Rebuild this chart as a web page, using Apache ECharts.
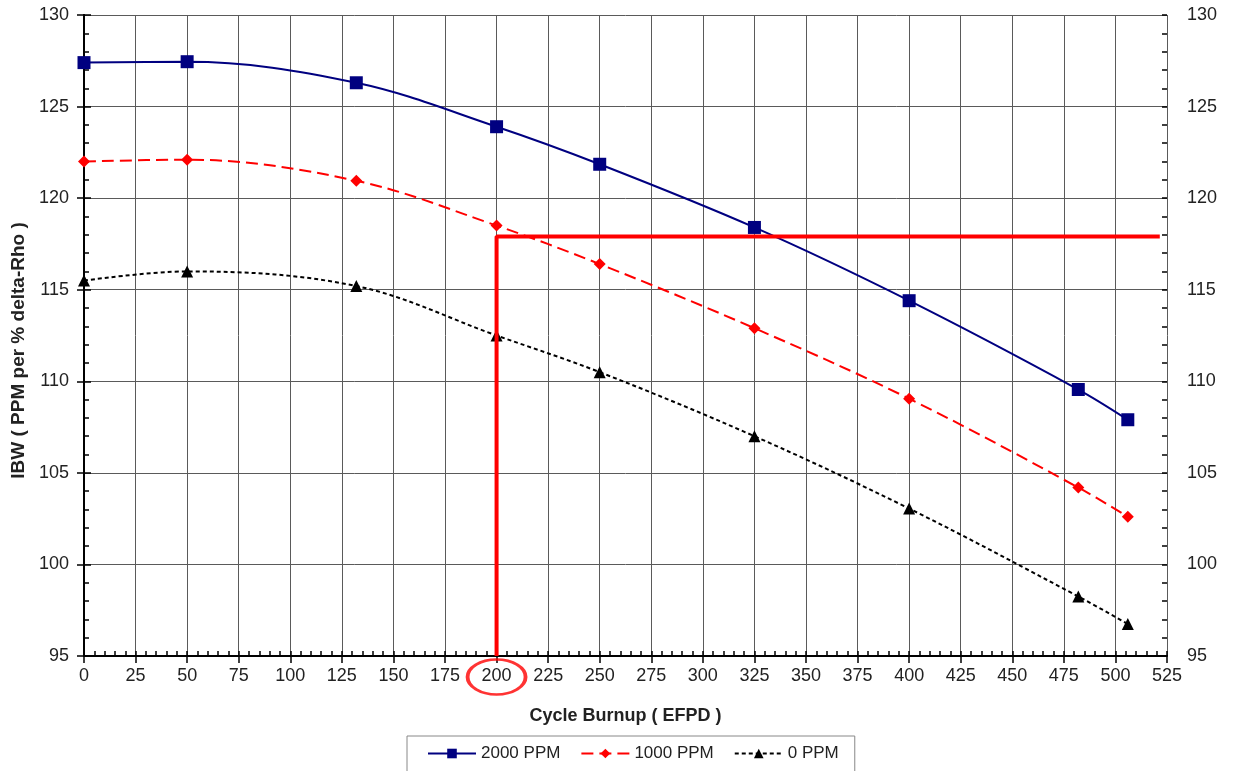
<!DOCTYPE html>
<html>
<head>
<meta charset="utf-8">
<script src="https://cdn.jsdelivr.net/npm/echarts@6/dist/echarts.min.js"></script>
<style>
  html, body { margin: 0; padding: 0; background: #fff; }
  #chart { width: 1233px; height: 771px; }
</style>
</head>
<body>
<div id="chart"></div>
<script>
// burnup points (EFPD)
const burnup = [0, 50, 132, 200, 250, 325, 400, 482, 506];
// IBW per boron concentration
const ppm2000 = [127.4, 127.45, 126.3, 123.9, 121.85, 118.4, 114.4, 109.55, 107.9];
const ppm1000 = [122.0, 122.1, 120.95, 118.5, 116.4, 112.9, 109.05, 104.2, 102.6];
const ppm0 = [115.5, 116.0, 115.2, 112.5, 110.5, 107.0, 103.05, 98.25, 96.75];
// red read-off lines and circled tick
const readOff = [[200, 95], [200, 117.9], [521.5, 117.9]];
const circled = [[200, 95]];

const font = "'Liberation Sans', Arial, sans-serif";

function pairs(ys) {
  return burnup.map((x, i) => [x, ys[i]]);
}

const chart = echarts.init(document.getElementById("chart"));

const yMain = function(pos) {
  return {
    type: "value",
    position: pos,
    min: 95,
    max: 130,
    interval: 5,
    axisLine: { show: true, lineStyle: { color: "#000", width: 2 } },
    axisTick: { show: true, length: 7, lineStyle: { color: "#000", width: 1.5 } },
    axisLabel: {
      color: "#222",
      fontSize: 18,
      fontFamily: font,
      margin: pos === "left" ? 15 : 20
    },
    splitLine: { show: pos === "left", lineStyle: { color: "#5a5a5a", width: 1 } }
  };
};

const yMinor = function(pos) {
  return {
    type: "value",
    position: pos,
    min: 95,
    max: 130,
    interval: 1,
    axisLine: { show: false },
    axisTick: { show: true, inside: true, length: 5, lineStyle: { color: "#000", width: 1.5 } },
    axisLabel: { show: false },
    splitLine: { show: false }
  };
};

chart.setOption({
  animation: false,
  backgroundColor: "#fff",
  grid: { left: 84, right: 66, top: 15, bottom: 115 },
  legend: {
    data: ["2000 PPM", "1000 PPM", "0 PPM"],
    left: 407,
    top: 736,
    padding: [9, 16, 14, 20],
    itemWidth: 48,
    itemHeight: 12,
    itemGap: 20,
    borderColor: "#888",
    borderWidth: 1,
    textStyle: { fontSize: 17, fontFamily: font, color: "#222" }
  },
  xAxis: [
    {
      type: "value",
      min: 0,
      max: 525,
      interval: 25,
      name: "Cycle Burnup ( EFPD )",
      nameLocation: "middle",
      nameGap: 51,
      nameTextStyle: { fontSize: 18, fontWeight: "bold", fontFamily: font, color: "#222" },
      axisLine: { show: true, lineStyle: { color: "#000", width: 2 } },
      axisTick: { show: true, length: 7, lineStyle: { color: "#000", width: 1.5 } },
      axisLabel: { color: "#222", fontSize: 18, fontFamily: font, margin: 11 },
      splitLine: { show: true, lineStyle: { color: "#5a5a5a", width: 1 } }
    },
    {
      // 内侧小刻度
      type: "value",
      position: "bottom",
      min: 0,
      max: 525,
      interval: 5,
      axisLine: { show: false },
      axisTick: { show: true, inside: true, length: 5, lineStyle: { color: "#000", width: 1.5 } },
      axisLabel: { show: false },
      splitLine: { show: false }
    }
  ],
  yAxis: [
    Object.assign(yMain("left"), {
      name: "IBW ( PPM per % delta-Rho )",
      nameLocation: "middle",
      nameGap: 54,
      nameTextStyle: {
        fontSize: 19,
        fontWeight: "bold",
        fontFamily: font,
        color: "#222",
        padding: [0, 30, 0, 0]  // 往下挪一点
      }
    }),
    yMain("right"),
    yMinor("left"),
    yMinor("right")
  ],
  series: [
    {
      name: "2000 PPM",
      type: "line",
      smooth: 0.35,
      data: pairs(ppm2000),
      symbol: "rect",
      symbolSize: 13,
      itemStyle: { color: "#000080" },
      lineStyle: { color: "#000080", width: 2 },
      z: 5
    },
    {
      name: "1000 PPM",
      type: "line",
      smooth: 0.35,
      data: pairs(ppm1000),
      symbol: "diamond",
      symbolSize: 12,
      itemStyle: { color: "#ff0000" },
      lineStyle: { color: "#ff0000", width: 2, type: [12, 6] },
      z: 5
    },
    {
      name: "0 PPM",
      type: "line",
      smooth: 0.35,
      data: pairs(ppm0),
      symbol: "triangle",
      symbolSize: 12,
      itemStyle: { color: "#000" },
      lineStyle: { color: "#000", width: 2, type: [4, 3] },
      z: 5
    },
    {
      name: "readoff",
      type: "line",
      data: readOff,
      symbol: "none",
      silent: true,
      lineStyle: { color: "#ff0000", width: 4 },
      z: 6
    },
    {
      name: "circle",
      type: "scatter",
      data: circled,
      clip: false,
      symbol: "circle",
      symbolSize: [58, 35],
      symbolOffset: [0, 21],
      silent: true,
      itemStyle: { color: "rgba(0,0,0,0)", borderColor: "#ff0000", borderWidth: 3 },
      z: 6
    }
  ]
});
</script>
</body>
</html>
